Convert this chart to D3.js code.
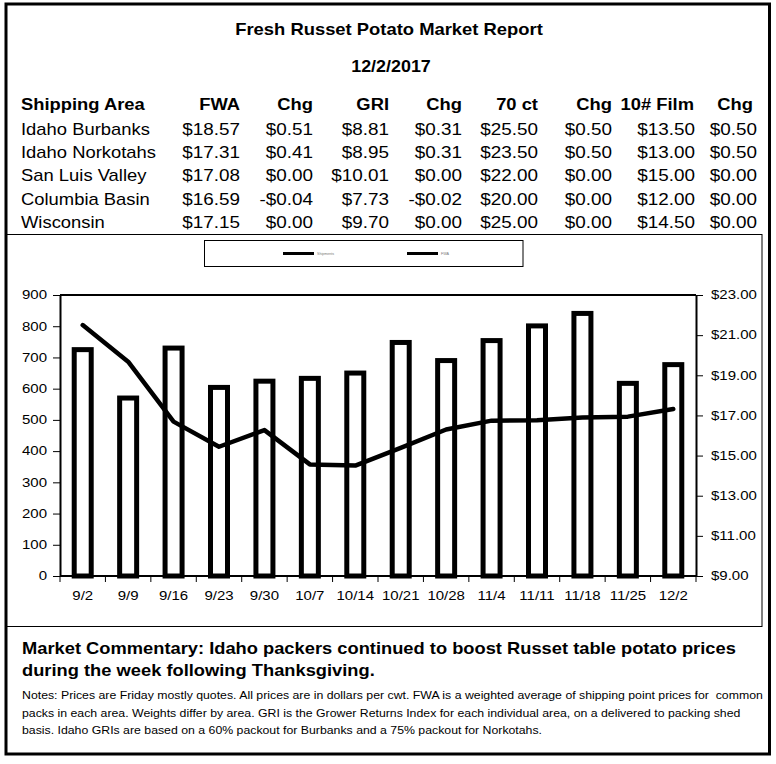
<!DOCTYPE html>
<html><head><meta charset="utf-8">
<script src="https://cdn.jsdelivr.net/npm/d3@7"></script>
<style>
body{margin:0;background:#fff}
svg{display:block}
text{font-family:"Liberation Sans",Arial,Helvetica,sans-serif;fill:#000;white-space:pre}
</style>
</head><body>
<svg id="c" width="776" height="764"></svg>
<script>
// ---------- data ----------
const weeks = ["9/2","9/9","9/16","9/23","9/30","10/7","10/14","10/21","10/28","11/4","11/11","11/18","11/25","12/2"];
const shipments = [725,570,730,604,624,633,650,748,690,754,801,841,617,677];
const fwaPrice = [21.50,19.68,16.69,15.44,16.27,14.56,14.50,15.38,16.30,16.74,16.76,16.90,16.94,17.32];
const leftTicks = [0,100,200,300,400,500,600,700,800,900];
const rightTicks = [9,11,13,15,17,19,21,23];
const legendNames = ["Shipments","FWA"];

const title = "Fresh Russet Potato Market Report";
const reportDate = "12/2/2017";
const headers = ["Shipping Area","FWA","Chg","GRI","Chg","70 ct","Chg","10# Film","Chg"];
const areas = ["Idaho Burbanks","Idaho Norkotahs","San Luis Valley","Columbia Basin","Wisconsin"];
const fwa = [18.57,17.31,17.08,16.59,17.15];
const fwaChg = [0.51,0.41,0.00,-0.04,0.00];
const gri = [8.81,8.95,10.01,7.73,9.70];
const griChg = [0.31,0.31,0.00,-0.02,0.00];
const ct70 = [25.50,23.50,22.00,20.00,25.00];
const ct70Chg = [0.50,0.50,0.00,0.00,0.00];
const film10 = [13.50,13.00,15.00,12.00,14.50];
const film10Chg = [0.50,0.50,0.00,0.00,0.00];
const commentary = ["Market Commentary: Idaho packers continued to boost Russet table potato prices",
                    "during the week following Thanksgiving."];
const notes = ["Notes: Prices are Friday mostly quotes. All prices are in dollars per cwt. FWA is a weighted average of shipping point prices for  common",
               "packs in each area. Weights differ by area. GRI is the Grower Returns Index for each individual area, on a delivered to packing shed",
               "basis. Idaho GRIs are based on a 60% packout for Burbanks and a 75% packout for Norkotahs."];

// ---------- helpers ----------
const svg = d3.select("#c");
function txt(x, y, s, o) {
  o = o || {};
  const t = svg.append("text")
    .attr("transform", `translate(${x},${y}) scale(${o.sx||1},1)`)
    .attr("font-size", o.size || 16)
    .attr("font-weight", o.weight || "normal")
    .attr("text-anchor", o.anchor || "start")
    .text(s);
  if (o.fill) t.style("fill", o.fill);
  return t;
}
function fitScale(s, size, weight, width) {
  const t = svg.append("text").attr("font-size", size).attr("font-weight", weight).text(s);
  const w = t.node().getComputedTextLength();
  t.remove();
  return width / w;
}
const money = v => (v < 0 ? "-" : "") + "$" + Math.abs(v).toFixed(2);

// ---------- frames ----------
svg.append("rect").attr("x",6).attr("y",4).attr("width",763.5).attr("height",750)
  .attr("fill","none").attr("stroke","#000").attr("stroke-width",3);
svg.append("rect").attr("x",6.5).attr("y",234.5).attr("width",755.5).attr("height",392)
  .attr("fill","none").attr("stroke","#000").attr("stroke-width",1);

// ---------- title & table ----------
txt(389, 35, title, {size:16, weight:"bold", anchor:"middle", sx:1.15});
txt(391, 71.5, reportDate, {size:16, weight:"bold", anchor:"middle", sx:1.12});

const colRight = [240,313,389,462,538,612,695,757];
const hdrRight = [240,313,389,462,538,612,694,753];
txt(21, 110, headers[0], {size:17, weight:"bold", sx:1.08});
headers.slice(1).forEach((h,i) => txt(hdrRight[i], 110, h, {size:17, weight:"bold", anchor:"end", sx:1.08}));

const cols = [fwa,fwaChg,gri,griChg,ct70,ct70Chg,film10,film10Chg];
const rowBase = [134.8,158,181.2,204.8,228];
areas.forEach((a,r) => {
  txt(21, rowBase[r], a, {size:16, sx:1.15});
  cols.forEach((c,i) => txt(colRight[i], rowBase[r], money(c[r]), {size:16, anchor:"end", sx:1.18}));
});

// ---------- legend ----------
svg.append("rect").attr("x",204.5).attr("y",240.5).attr("width",318.5).attr("height",26)
  .attr("fill","none").attr("stroke","#000").attr("stroke-width",1);
const legX = [283,407];
const legTW = [17,8];
legendNames.forEach((n,i) => {
  svg.append("line").attr("x1",legX[i]).attr("x2",legX[i]+31).attr("y1",253.5).attr("y2",253.5)
    .attr("stroke","#000").attr("stroke-width",3);
  svg.append("text").attr("x",legX[i]+34).attr("y",255).attr("font-size",3.5)
    .attr("textLength",legTW[i]).attr("lengthAdjust","spacingAndGlyphs")
    .style("fill","#777").text(n);
});

// ---------- chart ----------
const x0 = 60, x1 = 696, yTop = 295, yBot = 576;
const x = d3.scaleBand().domain(weeks).range([x0,x1]).padding(0);
const yL = d3.scaleLinear().domain([0,900]).range([yBot,yTop]);
const yR = d3.scaleLinear().domain([9,23]).range([yBot,yTop]);
const sxAxis = 1.25;

// bars
svg.append("g").selectAll("rect").data(weeks).join("rect")
  .attr("x", d => x(d) + x.bandwidth()/2 - 8.5)
  .attr("width", 17)
  .attr("y", (d,i) => yL(shipments[i]))
  .attr("height", (d,i) => yBot - yL(shipments[i]))
  .attr("fill","#fff").attr("stroke","#000").attr("stroke-width",5);

// line
const line = d3.line().x((d,i) => x(weeks[i]) + x.bandwidth()/2).y(d => yR(d));
svg.append("path").datum(fwaPrice).attr("d", line)
  .attr("fill","none").attr("stroke","#000").attr("stroke-width",4.5)
  .attr("stroke-linejoin","round").attr("stroke-linecap","round");

// plot frame top line
svg.append("line").attr("x1",x0).attr("x2",x1).attr("y1",yTop).attr("y2",yTop)
  .attr("stroke","#000").attr("stroke-width",2);

// left axis
const gL = svg.append("g").attr("transform",`translate(${x0},0)`)
  .call(d3.axisLeft(yL).tickValues(leftTicks).tickSize(7).tickSizeOuter(0).tickPadding(6));
// right axis
const gR = svg.append("g").attr("transform",`translate(${x1},0)`)
  .call(d3.axisRight(yR).tickValues(rightTicks).tickFormat(d => "$" + d.toFixed(2)).tickSize(7).tickSizeOuter(0).tickPadding(8));
// bottom axis labels
const gB = svg.append("g").attr("transform",`translate(0,${yBot})`)
  .call(d3.axisBottom(x).tickSize(0).tickPadding(15.5));
// bottom boundary ticks
const bounds = weeks.map(w => x(w)).concat([x1]);
svg.append("g").selectAll("line").data(bounds).join("line")
  .attr("x1", d => d).attr("x2", d => d).attr("y1", yBot).attr("y2", yBot + 6)
  .attr("stroke","#000").attr("stroke-width",1);
svg.append("line").attr("x1",x0).attr("x2",x1).attr("y1",yBot).attr("y2",yBot)
  .attr("stroke","#000").attr("stroke-width",2);

[gL,gR,gB].forEach(g => {
  g.select(".domain").attr("stroke","#000").attr("stroke-width",2);
  g.selectAll(".tick line").attr("stroke","#000").attr("stroke-width",1);
  g.selectAll(".tick text").attr("font-size",12).style("fill","#000")
    .attr("font-family",'"Liberation Sans",Arial,sans-serif')
    .each(function(){
      const t = d3.select(this);
      const xv = +t.attr("x") || 0;
      t.attr("x", xv / sxAxis).attr("transform", `scale(${sxAxis},1)`);
    });
});
gB.select(".domain").remove();

// ---------- commentary & notes ----------
const sxC = fitScale(commentary[0], 16, "bold", 714);
txt(22, 654, commentary[0], {size:16, weight:"bold", sx:sxC});
txt(22, 676, commentary[1], {size:16, weight:"bold", sx:sxC});
const sxN = fitScale(notes[0], 11, "normal", 742);
const noteBase = [699,717,734];
notes.forEach((n,i) => txt(22, noteBase[i], n, {size:11, sx:sxN}));
</script>
</body></html>
